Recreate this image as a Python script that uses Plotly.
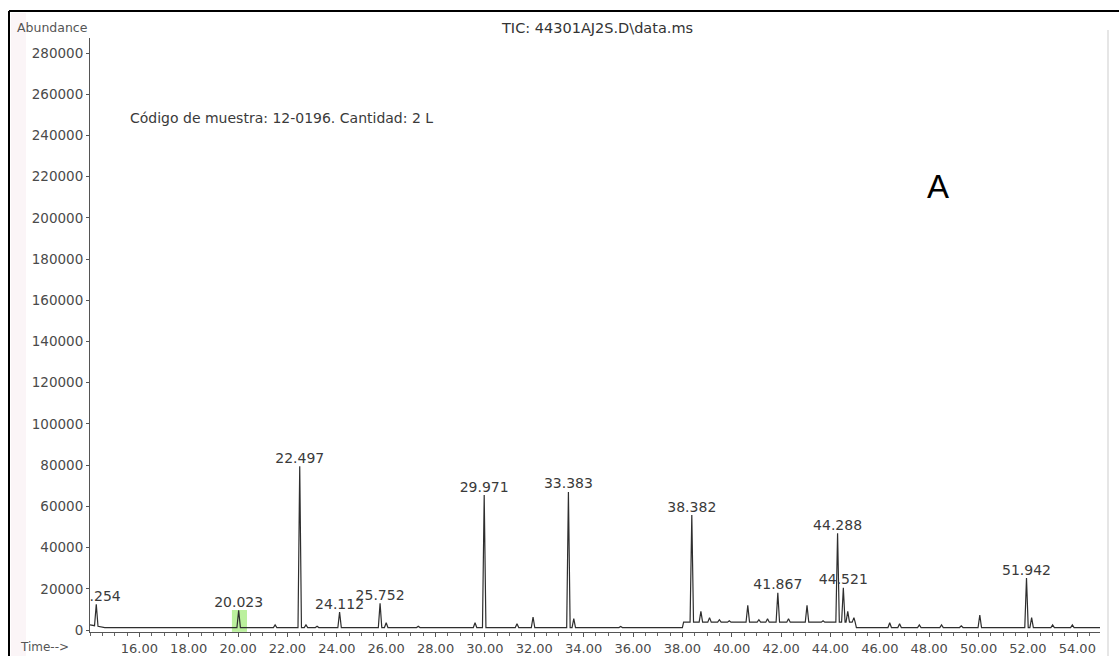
import numpy as np
import plotly.graph_objects as go

# Labelled peaks: retention time (min) and abundance
peak_times = [14.254, 20.023, 22.497, 24.112, 25.752, 29.971, 33.383,
              38.382, 41.867, 44.288, 44.521, 51.942]
peak_heights = [12500, 9500, 79500, 8700, 13000, 65500, 67000,
                55800, 18000, 47000, 20500, 25200]
peak_labels = ["14.254", "20.023", "22.497", "24.112", "25.752", "29.971",
               "33.383", "38.382", "41.867", "44.288", "44.521", "51.942"]

# Smaller unlabelled peaks
minor_times = [21.5, 22.75, 23.2, 26.0, 27.3, 29.6, 31.3, 31.95, 33.6, 35.5,
               37.0, 38.75, 39.1, 39.5, 39.9, 40.65, 41.1, 41.45, 42.3, 43.05,
               43.7, 44.7, 44.95, 46.4, 46.8, 47.6, 48.5, 49.3, 50.05, 52.15,
               53.0, 53.8]
minor_heights = [2500, 2500, 1800, 3500, 1800, 3500, 3000, 6300, 5500, 1700,
                 1500, 9000, 6000, 5000, 4500, 12000, 5000, 5500, 5500, 12000,
                 4500, 9000, 6000, 3500, 3000, 2500, 2500, 2000, 7300, 6000,
                 2500, 2500]

# Baseline level of the chromatogram
base_times = [14.0, 14.6, 38.0, 38.05, 45.0, 45.05, 54.92]
base_levels = [2500, 1200, 1200, 3800, 3800, 1200, 1200]

x_ticks = [16 + 2 * i for i in range(20)]
y_ticks = [20000 * i for i in range(15)]

# Build the trace as narrow spikes on top of the baseline
half_w = 0.07
pts = [(t, b) for t, b in zip(base_times, base_levels)]
for t, h in zip(peak_times + minor_times, peak_heights + minor_heights):
    for tt in (t - half_w, t + half_w):
        pts.append((tt, float(np.interp(tt, base_times, base_levels))))
    pts.append((t, h))
pts.sort(key=lambda p: p[0])
tx = [p[0] for p in pts]
ty = [p[1] for p in pts]

W, H = 1119, 656
L, R, T, B = 90, 1100, 38, 632
X0, X1 = 14.0, 54.92
Y0, Y1 = -970, 287280


def px(x):
    return (x - L) / (R - L)


def py(y):
    return (B - y) / (B - T)


fig = go.Figure()

# green highlight at 20 min
fig.add_shape(type="rect", xref="x", yref="y", x0=19.75, x1=20.36, y0=-900, y1=9700,
              fillcolor="rgba(120,225,60,0.5)", line_width=0, layer="below")

fig.add_trace(go.Scatter(x=tx, y=ty, mode="lines",
                         line=dict(color="#2e2e2e", width=1.2),
                         hoverinfo="skip", showlegend=False))

fig.add_trace(go.Scatter(x=peak_times, y=peak_heights, mode="text",
                         text=peak_labels, textposition="top center",
                         textfont=dict(family="DejaVu Sans", size=14, color="#3a3a3a"),
                         cliponaxis=True, hoverinfo="skip", showlegend=False))

fig.update_xaxes(range=[X0, X1], tickmode="array", tickvals=x_ticks,
                 ticktext=[f"{v:.2f}" for v in x_ticks],
                 showline=True, linecolor="#555", linewidth=1,
                 ticks="outside", ticklen=4, tickcolor="#555",
                 automargin=False,
                 minor=dict(tick0=14, dtick=0.5, ticks="outside", ticklen=3,
                            tickcolor="#666"),
                 showgrid=False, zeroline=False,
                 tickfont=dict(family="DejaVu Sans", size=13, color="#4a4a4a"))
fig.update_yaxes(range=[Y0, Y1], tickmode="array", tickvals=y_ticks,
                 ticktext=[str(v) for v in y_ticks],
                 showline=True, linecolor="#555", linewidth=1,
                 ticks="outside", ticklen=3, tickcolor="#555",
                 automargin=False,
                 showgrid=False, zeroline=False,
                 tickfont=dict(family="DejaVu Sans", size=13.5, color="#4a4a4a"))

annotations = [
    dict(x=px(597), y=py(28), text="TIC: 44301AJ2S.D\\data.ms",
         font=dict(family="DejaVu Sans", size=14.5, color="#333")),
    dict(x=px(90), y=py(28), text="Abundance", xanchor="right",
         font=dict(family="DejaVu Sans", size=12.5, color="#555")),
    dict(x=px(128), y=py(118), text="Código de muestra: 12-0196. Cantidad: 2 L",
         xanchor="left", font=dict(family="DejaVu Sans", size=14, color="#3a3a3a")),
    dict(x=px(938), y=py(186), text="A",
         font=dict(family="Liberation Sans", size=33, color="#000")),
    dict(x=px(18), y=py(647), text="Time-->", xanchor="left",
         font=dict(family="DejaVu Sans", size=12, color="#555")),
]
for a in annotations:
    a.update(xref="paper", yref="paper", showarrow=False)
    a.setdefault("xanchor", "center")
    a["yanchor"] = "middle"

shapes = [
    # outer frame lines
    dict(type="line", xref="paper", yref="paper", x0=px(9), x1=px(W), y0=py(11), y1=py(11),
         line=dict(color="#000", width=2)),
    dict(type="line", xref="paper", yref="paper", x0=px(9), x1=px(9), y0=py(11), y1=py(H),
         line=dict(color="#000", width=2)),
    dict(type="line", xref="paper", yref="paper", x0=px(1108), x1=px(1108), y0=py(30), y1=py(H),
         line=dict(color="#e6e6e6", width=2)),
    dict(type="rect", xref="paper", yref="paper", x0=px(11), x1=px(26), y0=py(13), y1=py(H),
         fillcolor="rgba(248,236,239,0.5)", line_width=0, layer="below"),
]
for s in shapes:
    fig.add_shape(**s)

fig.update_layout(width=W, height=H, margin=dict(l=L, r=W - R, t=T, b=H - B),
                  paper_bgcolor="white", plot_bgcolor="white",
                  annotations=annotations, showlegend=False)

fig.write_html("out.html")
